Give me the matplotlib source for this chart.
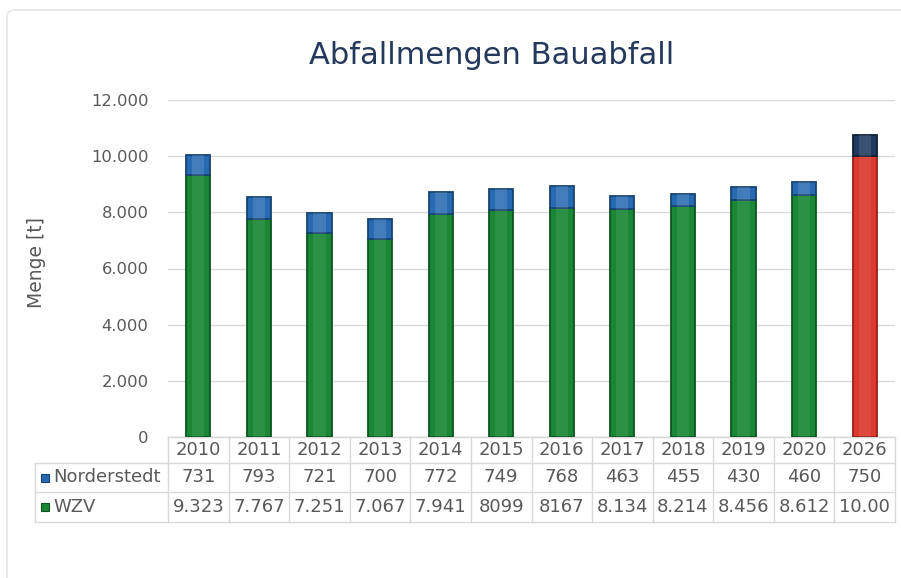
"""
Abfallmengen Bauabfall: stacked bars (WZV + Norderstedt) with a data table underneath.
"""
import matplotlib
matplotlib.use("Agg")
import matplotlib.pyplot as plt
from matplotlib.patches import Rectangle, FancyBboxPatch
from matplotlib.ticker import FuncFormatter

# ======= DATEN =======
years = ['2010', '2011', '2012', '2013', '2014', '2015',
         '2016', '2017', '2018', '2019', '2020', '2026']
norderstedt = [731, 793, 721, 700, 772, 749, 768, 463, 455, 430, 460, 750]
wzv = [9323, 7767, 7251, 7067, 7941, 8099, 8167, 8134, 8214, 8456, 8612, 10000]
# Tabellentext so wie im Original (uneinheitliche Schreibweise)
norderstedt_labels = ['731', '793', '721', '700', '772', '749',
                      '768', '463', '455', '430', '460', '750']
wzv_labels = ['9.323', '7.767', '7.251', '7.067', '7.941', '8099',
              '8167', '8.134', '8.214', '8.456', '8.612', '10.00']

GREEN, GREEN_D = '#1b8736', '#0c5520'
BLUE, BLUE_D = '#286ab2', '#164473'
RED, RED_D = '#dc3a2f', '#96201a'
NAVY, NAVY_D = '#1f3a5f', '#0f1f35'
GRID = '#d9d9d9'
TXT = '#595959'

# ======= FIGUR =======
W, H = 901, 578
fig = plt.figure(figsize=(W / 100, H / 100), dpi=100)
fig.patch.set_facecolor('white')

# leichter Rahmen um das Diagramm
fig.patches.append(FancyBboxPatch((7 / W, -0.05), 1.1, 1 - 10 / H + 0.05,
                                  boxstyle='round,pad=0,rounding_size=0.01',
                                  transform=fig.transFigure, fc='none',
                                  ec='#e8e8e8', lw=1.2))

x0, x1, ytop, ybot = 168, 895, 100, 437
ax = fig.add_axes([x0 / W, 1 - ybot / H, (x1 - x0) / W, (ybot - ytop) / H])

x = list(range(len(years)))
bottom_cols = [GREEN] * 11 + [RED]
bottom_edge = [GREEN_D] * 11 + [RED_D]
top_cols = [BLUE] * 11 + [NAVY]
top_edge = [BLUE_D] * 11 + [NAVY_D]

bw = 0.4
ax.bar(x, wzv, width=bw, color=bottom_cols, edgecolor=bottom_edge, lw=1.3, zorder=3)
ax.bar(x, norderstedt, bottom=wzv, width=bw, color=top_cols,
       edgecolor=top_edge, lw=1.3, zorder=3)
# Glanzlicht in der Mitte
ax.bar(x, wzv, width=bw * 0.5, color='white', alpha=0.08, lw=0, zorder=4)
ax.bar(x, norderstedt, bottom=wzv, width=bw * 0.5, color='white',
       alpha=0.12, lw=0, zorder=4)

ax.set_xlim(-0.5, len(years) - 0.5)
ax.set_ylim(0, 12000)
ax.set_yticks(range(0, 12001, 2000))
ax.yaxis.set_major_formatter(FuncFormatter(lambda v, p: f'{int(v):,}'.replace(',', '.')))
ax.tick_params(axis='y', length=0, pad=14, labelsize=11.8, labelcolor=TXT)
ax.set_xticks([])
ax.grid(axis='y', color=GRID, lw=1, zorder=0)
for s in ['left', 'right', 'top']:
    ax.spines[s].set_visible(False)
ax.spines['bottom'].set_color(GRID)

fig.text(36 / W, 1 - 262 / H, 'Menge [t]', rotation=90, ha='center', va='center',
         fontsize=13.5, color=TXT)
fig.text(492 / W, 1 - 55 / H, 'Abfallmengen Bauabfall', ha='center', va='center',
         fontsize=22, color='#24395c')

# ======= TABELLE =======
def ay(ypix):
    return (ybot - ypix) / (ybot - ytop)

def axx(xpix):
    return (xpix - x0) / (x1 - x0)

rows = [437, 463, 492, 522]
n = len(years)
lk = dict(transform=ax.transAxes, clip_on=False, color=GRID, lw=1)
# horizontale Linien
ax.plot([0, 1], [ay(rows[0])] * 2, **lk)
for r in rows[1:]:
    ax.plot([axx(35), 1], [ay(r)] * 2, **lk)
# vertikale Linien
for k in range(n + 1):
    ax.plot([k / n] * 2, [ay(rows[0]), ay(rows[-1])], **lk)
ax.plot([axx(35)] * 2, [ay(rows[1]), ay(rows[-1])], **lk)

tk = dict(transform=ax.transAxes, ha='center', va='center', fontsize=13,
          color=TXT, clip_on=False)
for i in range(n):
    xc = (i + 0.5) / n
    ax.text(xc, ay((rows[0] + rows[1]) / 2), years[i], **tk)
    ax.text(xc, ay((rows[1] + rows[2]) / 2), norderstedt_labels[i], **tk)
    ax.text(xc, ay((rows[2] + rows[3]) / 2), wzv_labels[i], **tk)

for r, (name, col, ec) in enumerate([('Norderstedt', BLUE, BLUE_D), ('WZV', GREEN, GREEN_D)]):
    yc = ay((rows[r + 1] + rows[r + 2]) / 2)
    sq = 8
    ax.add_patch(Rectangle((axx(41), yc - (sq / 2) / (ybot - ytop)),
                           sq / (x1 - x0), sq / (ybot - ytop),
                           transform=ax.transAxes, fc=col, ec=ec, lw=0.8,
                           clip_on=False))
    ax.text(axx(53), yc, name, transform=ax.transAxes, ha='left', va='center',
            fontsize=13, color=TXT, clip_on=False)

fig.savefig('out.png', dpi=100)
